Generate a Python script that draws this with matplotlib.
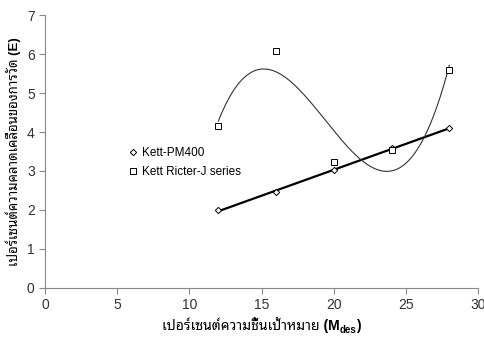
import numpy as np
import matplotlib
matplotlib.use("Agg")
from matplotlib import pyplot as plt

plt.rcParams['font.family'] = ['Liberation Sans', 'Noto Sans Thai Looped', 'DejaVu Sans']

moisture = [12, 16, 20, 24, 28]
pm400 = [2.0, 2.46, 3.02, 3.58, 4.1]
ricter = [4.15, 6.07, 3.24, 3.53, 5.58]

xlabel_main = 'เปอร์เซนต์ความชื้นเป้าหมาย (M'
xlabel_sub = 'des'
ylabel = 'เปอร์เซนต์ความคลาดเคลื่อนของการวัด (E)'

fig = plt.figure(figsize=(4.85, 3.42), dpi=100)
ax = fig.add_axes([0.093, 0.158, 0.893, 0.798])

xs = np.linspace(12, 28, 200)
lin = np.polyfit(moisture, pm400, 1)
ax.plot(xs, np.polyval(lin, xs), color='black', lw=1.6)
cub = np.polyfit(moisture, ricter, 3)
ax.plot(xs, np.polyval(cub, xs), color='#333333', lw=0.8)

ax.plot(moisture, pm400, ls='none', marker='D', ms=3.2, mfc='white', mec='black', mew=0.7,
        label='Kett-PM400')
ax.plot(moisture, ricter, ls='none', marker='s', ms=4, mfc='white', mec='black', mew=0.7,
        label='Kett Ricter-J series')

ax.set_xlim(0, 30)
ax.set_ylim(0, 7)
ax.set_xticks(range(0, 31, 5))
ax.set_yticks(range(0, 8))
for s in ['top', 'right']:
    ax.spines[s].set_visible(False)
for s in ['left', 'bottom']:
    ax.spines[s].set_color('#888888')
ax.tick_params(direction='out', length=4, color='#888888', labelsize=10, labelcolor='#333333')

ax.set_ylabel(ylabel, fontsize=9.5, fontweight='bold', labelpad=4)

# x label with subscript, built from pieces so the Thai font is used
renderer = fig.canvas.get_renderer()
pieces = [(xlabel_main, 10, 0.0), (xlabel_sub, 7, -0.01), (')', 10, 0.0)]
texts = [fig.text(0, 0.05, s, fontsize=fs, fontweight='bold', va='baseline') for s, fs, dy in pieces]
widths = [t.get_window_extent(renderer).width / fig.bbox.width for t in texts]
x = 0.093 + 0.893 / 2 - sum(widths) / 2
for t, w, (s, fs, dy) in zip(texts, widths, pieces):
    t.set_position((x, 0.035 + dy))
    x += w

ax.legend(loc='upper left', bbox_to_anchor=(0.17, 0.555), frameon=False, fontsize=8.5,
          handlelength=0.6, handletextpad=0.5, labelspacing=0.6)

fig.savefig('out.png', dpi=100)
